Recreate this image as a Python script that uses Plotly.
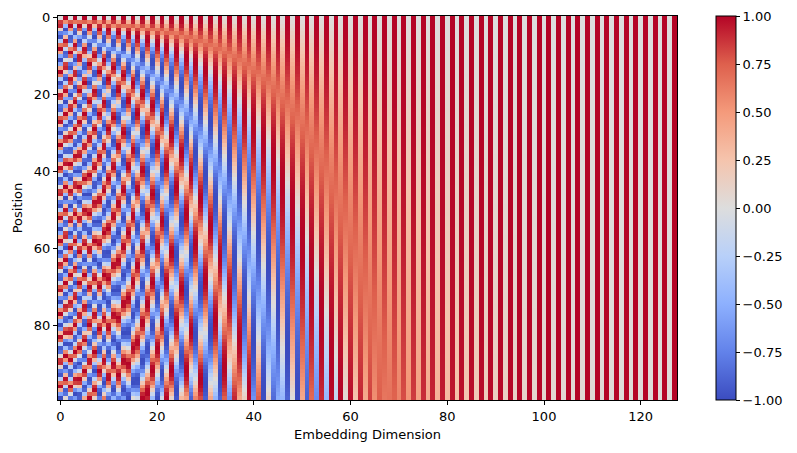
import numpy as np
import plotly.graph_objects as go

# Sinusoidal positional encoding shown in the reference: 100 positions x 128 dims
max_len = 100
d_model = 128
base = 10000.0

positions = np.arange(max_len)
dims = np.arange(d_model)
x_ticks = [0, 20, 40, 60, 80, 100, 120]
y_ticks = [0, 20, 40, 60, 80]
cbar_ticks = [-1.0, -0.75, -0.5, -0.25, 0.0, 0.25, 0.5, 0.75, 1.0]

pe = np.zeros((max_len, d_model))
div = base ** (np.arange(0, d_model, 2) / d_model)
pe[:, 0::2] = np.sin(positions[:, None] / div[None, :])
pe[:, 1::2] = np.cos(positions[:, None] / div[None, :])

coolwarm = [
    [0.0, "rgb(59,76,192)"],
    [0.125, "rgb(98,130,234)"],
    [0.25, "rgb(141,176,254)"],
    [0.375, "rgb(184,208,249)"],
    [0.5, "rgb(221,221,221)"],
    [0.625, "rgb(245,196,173)"],
    [0.75, "rgb(244,154,123)"],
    [0.875, "rgb(222,96,77)"],
    [1.0, "rgb(180,4,38)"],
]

# page body has an 8px margin, so the figure is drawn offset by 8px
W, H = 789, 445
L, R, T, B = 49.5, 120, 7.5, 53
pw = W - L - R

fig = go.Figure(go.Heatmap(
    z=pe, x=dims, y=positions,
    colorscale=coolwarm, zmin=-1, zmax=1,
    colorbar=dict(
        x=(708.5 - L) / pw, xanchor="left", xpad=0, ypad=0,
        y=0.5, yanchor="middle", len=1, lenmode="fraction",
        thickness=19.5, thicknessmode="pixels",
        outlinewidth=1, outlinecolor="black",
        tickvals=cbar_ticks, ticktext=[f"{v:.2f}".replace("-", "\u2212") for v in cbar_ticks],
        ticks="outside", ticklen=4, tickcolor="black",
        tickfont=dict(size=13, color="black"),
    ),
))

fig.update_layout(
    width=W, height=H,
    margin=dict(l=L, r=R, t=T, b=B, autoexpand=False),
    paper_bgcolor="white", plot_bgcolor="white",
    font=dict(family="DejaVu Sans", size=13, color="black"),
    xaxis=dict(
        range=[-0.5, d_model - 0.5], tickvals=x_ticks, ticks="outside",
        ticklen=4, tickcolor="black", showgrid=False, zeroline=False,
        showline=True, linecolor="black", linewidth=1, mirror=True,
        tickfont=dict(size=13),
        title=dict(text="Embedding Dimension", standoff=7, font=dict(size=13)),
        automargin=False,
    ),
    yaxis=dict(
        range=[max_len - 0.5, -0.5], tickvals=y_ticks, ticks="outside",
        ticklen=4, tickcolor="black", showgrid=False, zeroline=False,
        showline=True, linecolor="black", linewidth=1, mirror=True,
        tickfont=dict(size=13),
        title=dict(text="Position", standoff=8, font=dict(size=13)),
        automargin=False,
    ),
)

fig.write_html("out.html")
